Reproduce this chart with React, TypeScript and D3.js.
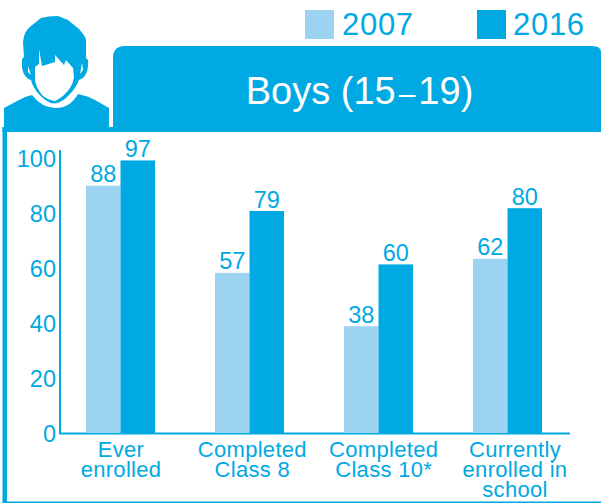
import React from "react";
import * as d3 from "d3";

const categories = ["Ever enrolled", "Completed Class 8", "Completed Class 10*", "Currently enrolled in school"];
const categoryLines = [["Ever", "enrolled"], ["Completed", "Class 8"], ["Completed", "Class 10*"], ["Currently", "enrolled in", "school"]];
const values2007 = [88, 57, 38, 62];
const values2016 = [97, 79, 60, 80];
const yTicks = [0, 20, 40, 60, 80, 100];
const seriesNames = ["2007", "2016"];

const LIGHT = "#9bd3f0";
const DARK = "#00a9e2";
const FONT = "'Liberation Sans', Arial, sans-serif";

export default function App() {
  const y = d3.scaleLinear().domain([0, 100]).range([433, 152]);
  const tickY = d3.scaleLinear().domain([0, 100]).range([434, 159]);
  const groupX = d3.scalePoint<string>().domain(categories).range([120.5, 507.5]);
  const labelX = d3.scalePoint<string>().domain(categories).range([121, 515]);
  const barW = 34.5;
  return (
    <svg width={601} height={503} viewBox="0 0 601 503"
      style={{ position: "absolute", left: 0, top: 0, display: "block" }} fontFamily={FONT}>
      <rect width={601} height={503} fill="#fff" />
      {/* legend */}
      <rect x={305} y={10} width={29} height={29} fill={LIGHT} />
      <text x={342} y={35} fontSize={31} letterSpacing={0.7} fill={DARK}>{seriesNames[0]}</text>
      <rect x={477} y={10} width={29} height={29} fill={DARK} />
      <text x={513} y={35} fontSize={31} letterSpacing={0.7} fill={DARK}>{seriesNames[1]}</text>

      {/* title tab */}
      <path d="M113 132V58Q113 46 125 46H592Q601 46 601 52V132Z" fill={DARK} />
      <text x={359.5} y={104} fontSize={38} fill="#fff" textAnchor="middle">
        Boys (15<tspan fontSize={30} dx={3}>–</tspan><tspan dx={3}>19)</tspan>
      </text>

      {/* person icon */}
      <path fill={DARK} d="M4 108L19 100Q26 96 32 95Q42 108 56 108Q70 108 78 94Q88 96 95 100L109 108V127H4Z" />
      <path fill={DARK} d="M23 42Q24 31 31 26L41 18Q48 16 58 16L68 20L79 29Q86 37 86 40V58L88 60Q89 72 83 78L79 80Q76 88 69 95Q61 103.500 54 103.500Q46 103 37 92Q32 85 31 80Q24 78 22 68V59L24 57Z" />
      <path fill="#fff" d="M39 49L42 66L55 62L55 55L64 65L66 60L73 68L74 78Q72 88 63 96Q56 101 54 101Q48 100 43 96Q36 88 35 80V67L39 64Z" />
      <path fill="#fff" d="M28 66L31 75L28 72ZM82 63L80 74L83 70Z" />

      {/* panel frame */}
      <rect x={2.5} y={127} width={4.5} height={376} fill={DARK} />
      <rect x={2.5} y={127} width={598.5} height={5} fill={DARK} />
      <rect x={2.5} y={501.5} width={598.5} height={1.5} fill={DARK} />

      {/* axes */}
      <path d="M60 150V433.5H570" fill="none" stroke={DARK} strokeWidth={2} />
      {yTicks.map(t => (
        <text key={t} x={56} y={tickY(t)! + 8} fontSize={23.5} fill={DARK} textAnchor="end">{t}</text>
      ))}

      {/* bars */}
      {categories.map((c, i) => {
        const cx = groupX(c)!;
        return (
          <g key={c}>
            <rect x={cx - barW} y={y(values2007[i])} width={barW} height={433 - y(values2007[i])} fill={LIGHT} />
            <rect x={cx} y={y(values2016[i])} width={barW} height={433 - y(values2016[i])} fill={DARK} />
            <text x={cx - barW / 2} y={y(values2007[i]) - 3.500} fontSize={23.5} fill={DARK} textAnchor="middle">{values2007[i]}</text>
            <text x={cx + barW / 2} y={y(values2016[i]) - 3.500} fontSize={23.5} fill={DARK} textAnchor="middle">{values2016[i]}</text>
            {categoryLines[i].map((l, k) => (
              <text key={l} x={labelX(c)!} y={456.5 + k * 20} fontSize={22} letterSpacing={0.3} fill={DARK} textAnchor="middle">{l}</text>
            ))}
          </g>
        );
      })}
    </svg>
  );
}
